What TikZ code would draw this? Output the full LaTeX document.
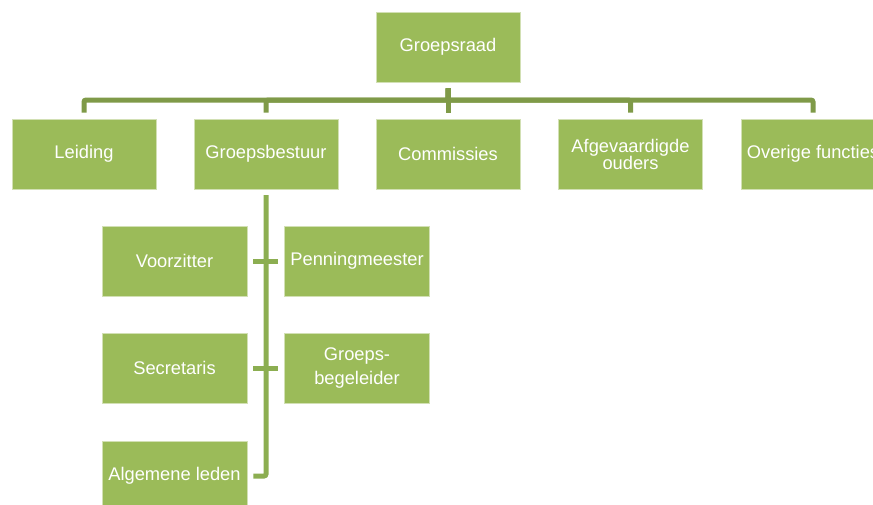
\documentclass[tikz,border=0pt]{standalone}
\usepackage{fontspec}
\setmainfont{Liberation Sans}
\definecolor{boxgreen}{HTML}{9BBB59}
\definecolor{topline}{HTML}{7F9A48}
\definecolor{subline}{HTML}{8CAE51}
\tikzset{
  orgbox/.style={rectangle, fill=boxgreen, draw=white!55!boxgreen, line width=0.8pt,
    minimum width=144pt, minimum height=70pt, inner sep=0pt, text=white,
    font=\fontsize{18.3}{18}\selectfont, align=center},
  topconn/.style={draw=topline, line width=5pt, rounded corners=2pt, shorten <=6pt, shorten >=6pt},
  subconn/.style={draw=subline, line width=5pt, rounded corners=2pt}
}
\begin{document}
\begin{tikzpicture}[x=1pt,y=-1pt]
\useasboundingbox[fill=white] (0,0) rectangle (873,504);
\node[orgbox] (gr) at (448,47) {Groepsraad};
\node[orgbox] (lei) at (84,154) {Leiding};
\node[orgbox] (gb) at (266,154) {Groepsbestuur};
\node[orgbox] (com) at (448,154) {Commissies};
\node[orgbox] (afg) at (630.5,154) {Afgevaardigde\\[-1pt]ouders};
\node[orgbox] (ov) at (813,154) {Overige functies};
\coordinate (bar) at (448,100);
\foreach \c in {lei,gb,com,afg,ov}
  \draw[topconn] (gr.south) -- (gr.south |- bar) -| (\c.north);
\node[orgbox, minimum width=145pt] (vz) at (174.5,261) {Voorzitter};
\node[orgbox, minimum width=145pt] (pm) at (357,261) {Penningmeester};
\node[orgbox, minimum width=145pt] (sec) at (174.5,368) {Secretaris};
\node[orgbox, minimum width=145pt] (gbg) at (357,368) {Groeps-\\[6pt]begeleider};
\node[orgbox, minimum width=145pt] (al) at (174.5,476) {Algemene leden};
\coordinate (spine) at (266,195);
\coordinate (spend) at (266,476);
\draw[subconn] (spine) -- (spend) -- ([xshift=6pt]al.east |- spend);
\draw[subconn] ([xshift=6pt]vz.east) -- ([xshift=-6pt]pm.west);
\draw[subconn] ([xshift=6pt]sec.east) -- ([xshift=-6pt]gbg.west);
\end{tikzpicture}
\end{document}
